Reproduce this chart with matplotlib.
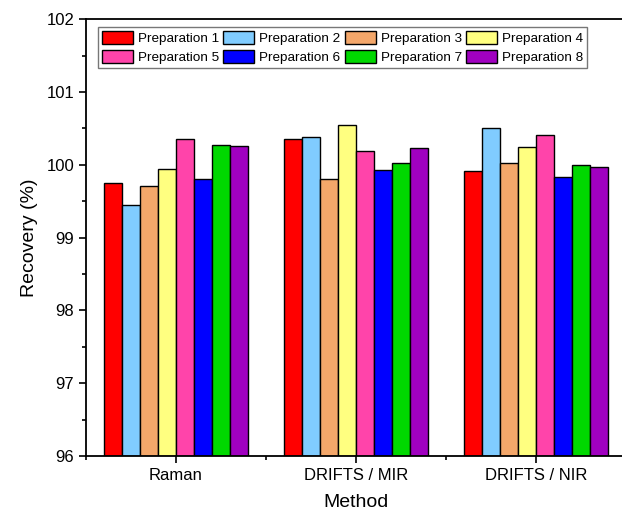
import matplotlib
matplotlib.use("Agg")
import matplotlib.pyplot as plt
import numpy as np
from matplotlib.ticker import MultipleLocator, FixedLocator

plt.rcParams['font.family'] = ['Liberation Sans', 'DejaVu Sans']

methods = ["Raman", "DRIFTS / MIR", "DRIFTS / NIR"]
series_names = [f"Preparation {i}" for i in range(1, 9)]
prep1 = [99.75, 100.36, 99.92]
prep2 = [99.45, 100.38, 100.50]
prep3 = [99.71, 99.80, 100.03]
prep4 = [99.95, 100.55, 100.25]
prep5 = [100.36, 100.19, 100.41]
prep6 = [99.80, 99.93, 99.84]
prep7 = [100.27, 100.03, 100.00]
prep8 = [100.26, 100.23, 99.97]
series = [prep1, prep2, prep3, prep4, prep5, prep6, prep7, prep8]
colors = ["#FF0000", "#80CCFF", "#F4A76A", "#FFFF80", "#FF44AA", "#0000FF", "#00D800", "#A000C0"]

W, H = 622, 521
fig = plt.figure(figsize=(W / 100, H / 100), dpi=100)
ax = fig.add_axes([86 / W, 65 / H, 540 / W, 436.7 / H])

x = np.arange(1, len(methods) + 1)
bw = 0.1
handles = []
for i, (vals, c) in enumerate(zip(series, colors)):
    b = ax.bar(x - 0.4 + bw * (i + 0.5), np.array(vals) - 96, bottom=96, width=bw,
               color=c, edgecolor="black", linewidth=1.0, label=series_names[i])
    handles.append(b)

ax.set_xlim(0.5, 3.5)
ax.set_ylim(96, 102)
ax.set_xticks(x)
ax.set_xticklabels(methods, fontsize=12)
ax.xaxis.set_minor_locator(FixedLocator([0.5, 1.5, 2.5, 3.5]))
ax.yaxis.set_major_locator(MultipleLocator(1))
ax.yaxis.set_minor_locator(MultipleLocator(0.5))
ax.tick_params(axis='both', which='major', direction='out', length=5, width=1.2, labelsize=12)
ax.tick_params(axis='both', which='minor', direction='out', length=3, width=1.2)
ax.set_xlabel("Method", fontsize=14, labelpad=8)
ax.set_ylabel("Recovery (%)", fontsize=14, labelpad=6)
for s in ['left', 'bottom', 'top']:
    ax.spines[s].set_linewidth(1.3)
ax.spines['right'].set_visible(False)

order = [0, 4, 1, 5, 2, 6, 3, 7]
leg = ax.legend([handles[i] for i in order], [series_names[i] for i in order],
                ncol=4, loc='upper left', bbox_to_anchor=(0.022, 0.982), borderaxespad=0,
                fontsize=9.7, frameon=True, fancybox=False, edgecolor='#555555',
                handlelength=2.3, handleheight=1.1, handletextpad=0.38,
                columnspacing=0.3, labelspacing=0.38, borderpad=0.3)
leg.get_frame().set_linewidth(1.0)

fig.savefig("out.png", dpi=100)
